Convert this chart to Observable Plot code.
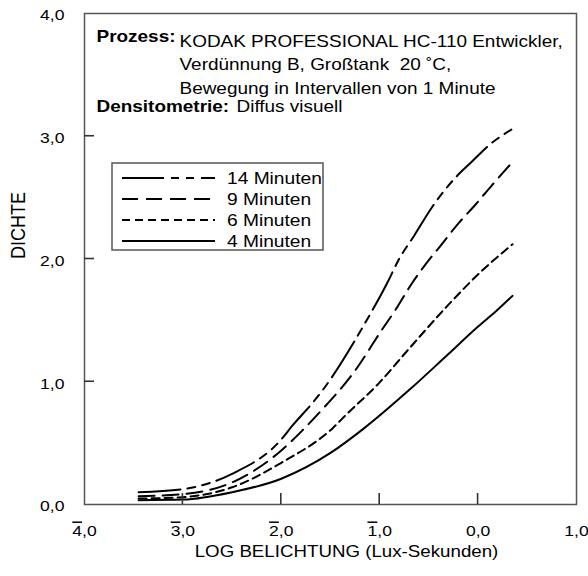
<!DOCTYPE html>
<html><head><meta charset="utf-8">
<script src="https://cdn.jsdelivr.net/npm/d3@7"></script>
<script src="https://cdn.jsdelivr.net/npm/@observablehq/plot@0.6"></script>
<style>body{margin:0;background:#fff}#chart{width:588px;height:576px}</style>
</head><body><div id="chart"></div>
<script>
// ---- data ----
const xTicks = [-4, -3, -2, -1, 0, 1];
const yTicks = [0, 1, 2, 3, 4];
const xLabel = "LOG BELICHTUNG (Lux-Sekunden)";
const yLabel = "DICHTE";
const seriesNames = ["14 Minuten", "9 Minuten", "6 Minuten", "4 Minuten"];
const logE14 = [-3.45, -3.0, -2.5, -2.0, -1.89, -1.68, -1.6, -1.14, -0.92, -0.81, -0.65, -0.47, -0.21, -0.08, 0.13, 0.35];
const dens14 = [0.10, 0.125, 0.25, 0.53, 0.64, 0.83, 0.91, 1.49, 1.81, 1.99, 2.19, 2.42, 2.68, 2.78, 2.94, 3.06];
const logE9 = [-3.45, -3.0, -2.5, -2.0, -1.79, -1.6, -1.26, -0.98, -0.82, -0.69, -0.54, -0.37, -0.2, -0.03, 0.14, 0.35];
const dens9 = [0.068, 0.085, 0.18, 0.44, 0.60, 0.76, 1.08, 1.42, 1.61, 1.78, 1.95, 2.12, 2.29, 2.44, 2.60, 2.79];
const logE6 = [-3.45, -3.0, -2.5, -2.0, -1.48, -1.33, -1.03, -0.69, -0.31, 0.02, 0.35];
const dens6 = [0.048, 0.06, 0.14, 0.34, 0.62, 0.74, 0.97, 1.28, 1.62, 1.89, 2.12];
const logE4 = [-3.45, -3.0, -2.5, -2.0, -1.5, -1.16, -0.69, -0.31, 0.0, 0.19, 0.35];
const dens4 = [0.035, 0.04, 0.10, 0.21, 0.42, 0.62, 0.94, 1.22, 1.45, 1.58, 1.70];
const annotBold1 = "Prozess:";
const annotProzess = ["KODAK PROFESSIONAL HC-110 Entwickler,", "Verdünnung B, Großtank  20 ˚C,", "Bewegung in Intervallen von 1 Minute"];
const annotBold2 = "Densitometrie:";
const annotDensito = "Diffus visuell";

// ---- styles ----
const dashes = ["42,7,8,7,8,7", "16,8", "8,5", null];
const FONT = "'Liberation Sans', Arial, Helvetica, sans-serif";
const SX = 1.17;
const W = 588, H = 576, ML = 84, MR = 12, MT = 13, MB = 72;
const TICK_X = 11, TICK_Y = 10;

const rows = (xs, ys, s) => xs.map((x, i) => ({x, y: ys[i], s}));
const curves = [
  rows(logE14, dens14, seriesNames[0]),
  rows(logE9, dens9, seriesNames[1]),
  rows(logE6, dens6, seriesNames[2]),
  rows(logE4, dens4, seriesNames[3])
];

const fmtX = d => (d < 0 ? "\u2212" + Math.abs(d) : String(d)) + ",0";
const fmtY = d => d.toFixed(1).replace(".", ",");

const svg = Plot.plot({
  width: W, height: H,
  marginLeft: ML, marginRight: MR, marginTop: MT, marginBottom: MB,
  style: {fontFamily: FONT, fontSize: "15px", color: "#000", background: "#fff"},
  x: {domain: [-4, 1]},
  y: {domain: [0, 4]},
  marks: [
    Plot.axisX(xTicks, {tickSize: 0, tickPadding: 21, tickFormat: fmtX, label: null, fontSize: 15}),
    Plot.axisY(yTicks, {tickSize: 0, tickPadding: 20, tickFormat: fmtY, label: null, fontSize: 15, dy: 2}),
    Plot.frame({stroke: "#555", strokeWidth: 1.5}),
    ...curves.map((c, i) => Plot.line(c, {x: "x", y: "y", curve: "monotone-x", stroke: "#000", strokeWidth: 2, strokeDasharray: dashes[i]})),
    Plot.text([xLabel], {frameAnchor: "bottom", dx: 16, dy: 52, fontSize: 16, fill: "#000"}),
    Plot.text([yLabel], {frameAnchor: "left", dx: -66, rotate: -90, fontSize: 18, fill: "#000"}),
    Plot.text([annotBold1], {frameAnchor: "top-left", dx: 12, dy: 17, lineAnchor: "top", fontSize: 16.2, fontWeight: "bold", textAnchor: "start"}),
    Plot.text([annotProzess.join("\n")], {frameAnchor: "top-left", dx: 95, dy: 17, lineAnchor: "top", lineHeight: 1.44, fontSize: 16.2, textAnchor: "start"}),
    Plot.text([annotBold2], {frameAnchor: "top-left", dx: 12, dy: 87, lineAnchor: "top", fontSize: 16.2, fontWeight: "bold", textAnchor: "start"}),
    Plot.text([annotDensito], {frameAnchor: "top-left", dx: 152, dy: 87, lineAnchor: "top", fontSize: 16.2, textAnchor: "start"})
  ]
});

// inward ticks, placed through the plot's own scale definitions
const sxo = svg.scale("x"), syo = svg.scale("y");
const sx = d3.scaleLinear(sxo.domain, sxo.range);
const sy = d3.scaleLinear(syo.domain, syo.range);
const tg = d3.select(svg).append("g").attr("aria-label", "inward ticks");
xTicks.slice(1, -1).forEach(v => {
  const px = sx(v);
  tg.append("line").attr("x1", px).attr("x2", px).attr("y1", sy(0)).attr("y2", sy(0) - TICK_X)
    .attr("stroke", "#333").attr("stroke-width", 1.6);
});
yTicks.slice(1, -1).forEach(v => {
  const py = sy(v);
  tg.append("line").attr("x1", sx(-4)).attr("x2", sx(-4) + TICK_Y).attr("y1", py).attr("y2", py)
    .attr("stroke", "#333").attr("stroke-width", 1.6);
});

// overline the characteristic of negative logs
d3.select(svg).selectAll('g[aria-label="x-axis tick label"] text').each(function() {
  const s = this.textContent;
  if (s.startsWith("\u2212")) {
    const t = d3.select(this);
    t.text("");
    t.append("tspan").style("text-decoration", "overline").text(s.slice(1, 2));
    t.append("tspan").text(s.slice(2));
  }
});

// legend box
const lg = d3.select(svg).append("g").attr("aria-label", "legend");
lg.append("rect").attr("x", 112).attr("y", 163).attr("width", 211).attr("height", 87)
  .attr("fill", "#fff").attr("stroke", "#555").attr("stroke-width", 1.5);
seriesNames.forEach((name, i) => {
  const yy = 178 + i * 21;
  lg.append("line").attr("x1", 122).attr("x2", 215).attr("y1", yy).attr("y2", yy)
    .attr("stroke", "#000").attr("stroke-width", 2)
    .attr("stroke-dasharray", dashes[i]);
  lg.append("text").attr("transform", `translate(227,${yy})`).attr("dy", "0.35em")
    .attr("text-anchor", "start")
    .attr("font-size", 16.4).attr("font-family", FONT).attr("fill", "#000").text(name);
});

// horizontal stretch of lettering to match the reference
svg.querySelectorAll("text").forEach(t => {
  const tr = t.getAttribute("transform") || "";
  t.setAttribute("transform", tr + (/rotate\(-90\)/.test(tr) ? ` scale(1,${SX})` : ` scale(${SX},1)`));
});

document.getElementById("chart").appendChild(svg);
</script>
</body></html>
